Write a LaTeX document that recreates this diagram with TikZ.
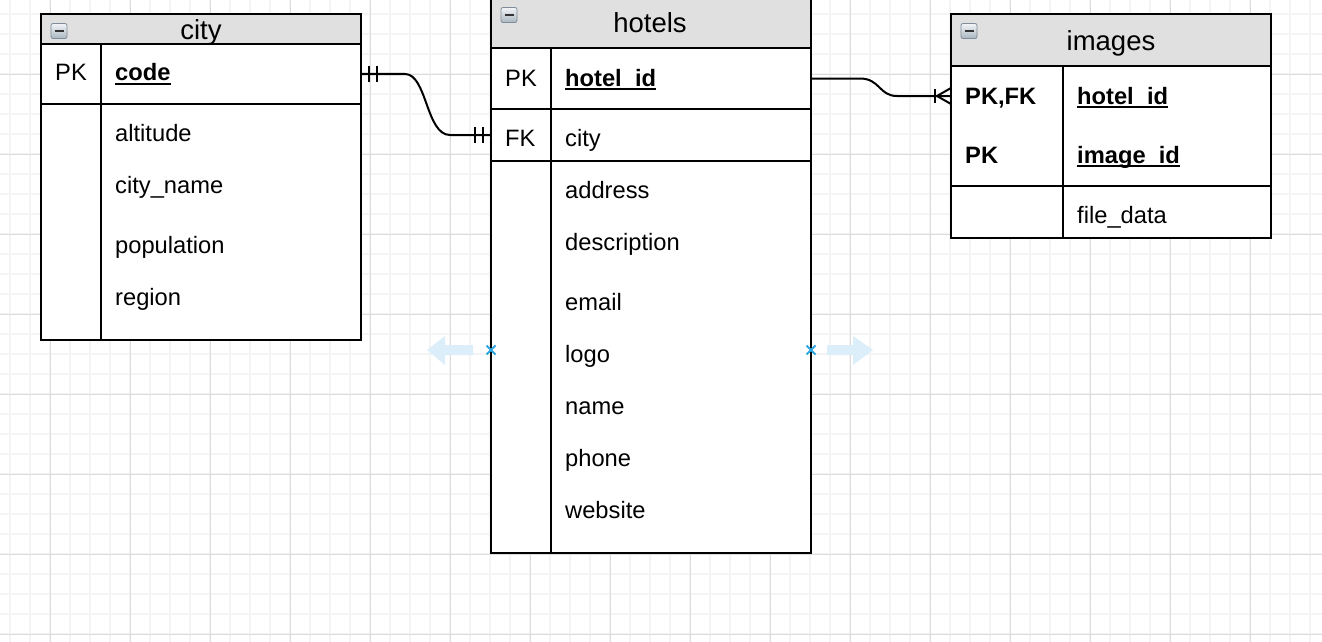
\documentclass[tikz,border=0pt]{standalone}
\usepackage{fontspec}
\setmainfont{Liberation Sans}
\usetikzlibrary{calc}

\definecolor{gridminor}{HTML}{F4F4F4}
\definecolor{gridmajor}{HTML}{DCDCDC}
\definecolor{headgray}{HTML}{E0E0E0}
\definecolor{hintblue}{HTML}{DCEEFA}
\definecolor{pinblue}{HTML}{2CA6E0}
\definecolor{iconedge}{HTML}{7F8C99}
\definecolor{icontop}{HTML}{F2F5F8}
\definecolor{iconbot}{HTML}{A9B5BF}

% bold key field with a solid underline
\newcommand\keyfield[1]{\setbox0\hbox{\bfseries #1}\rlap{\rule[-3.6pt]{\wd0}{1.6pt}}\box0}

\begin{document}
\begin{tikzpicture}[x=1pt,y=-1pt,
  tbl/.style={draw=black, line width=2pt, fill=white, rectangle, anchor=north west,
              inner sep=0pt, outer sep=0pt},
  headbox/.style={tbl, fill=headgray},
  txt/.style={anchor=base west, inner sep=0pt, font=\fontsize{23.7}{28}\selectfont},
  title/.style={anchor=base, inner sep=0pt, font=\fontsize{27.5}{32}\selectfont},
  rule/.style={line width=2pt},
  conn/.style={line width=2pt, line cap=butt},
  minusicon/.style={rectangle, minimum width=16pt, minimum height=15pt, inner sep=0pt,
     rounded corners=2pt, draw=iconedge, line width=0.8pt,
     top color=icontop, bottom color=iconbot,
     path picture={\draw[line width=2.4pt, black!80]
        ($(path picture bounding box.west)+(3.5pt,0)$) --
        ($(path picture bounding box.east)+(-3.5pt,0)$);}},
]
\useasboundingbox (0,0) rectangle (1322,642);
\fill[white] (0,0) rectangle (1322,642);

% background grid
\foreach \x in {10,30,...,1310} \draw[gridminor, line width=1.2pt] (\x,0) -- (\x,642);
\foreach \y in {14,34,...,634} \draw[gridminor, line width=1.2pt] (0,\y) -- (1322,\y);
\foreach \x in {50,130,...,1250} \draw[gridmajor, line width=1pt] (\x,0) -- (\x,642);
\foreach \y in {74,154,...,634} \draw[gridmajor, line width=1pt] (0,\y) -- (1322,\y);

% ---- city ----
\node[headbox, minimum width=320pt, minimum height=30pt] (cityhead) at (41,14) {};
\node[tbl, minimum width=320pt, minimum height=60pt] (citykey) at (41,44) {};
\node[tbl, minimum width=320pt, minimum height=236pt] (citybody) at (41,104) {};
\draw[rule] ($(citykey.north west)+(60,0)$) -- ($(citybody.south west)+(60,0)$);
\node[minusicon] (cityicon) at (59,31) {};
\node[title] (citytitle) at (201,40) {city};
\node[txt] (citypk) at (55,81) {PK};
\node[txt] (citycode) at (115,81) {\keyfield{code}};
\node[txt] (cityalt) at (115,141) {altitude};
\node[txt] (cityname) at (115,193) {city\_name};
\node[txt] (citypop) at (115,253) {population};
\node[txt] (cityreg) at (115,305) {region};

% ---- hotels ----
\node[headbox, minimum width=320pt, minimum height=50pt] (hothead) at (491,-2) {};
\node[tbl, minimum width=320pt, minimum height=61pt] (hotkey) at (491,48) {};
\node[tbl, minimum width=320pt, minimum height=52pt] (hotfk) at (491,109) {};
\node[tbl, minimum width=320pt, minimum height=392pt] (hotbody) at (491,161) {};
\draw[rule] ($(hotkey.north west)+(60,0)$) -- ($(hotbody.south west)+(60,0)$);
\node[minusicon] (hoticon) at (509,15) {};
\node[title] (hottitle) at (650,33) {hotels};
\node[txt] (hotpk) at (505,86) {PK};
\node[txt] (hotid) at (565,86) {\keyfield{hotel\_id}};
\node[txt] (hotfklbl) at (505,146) {FK};
\node[txt] (hotcity) at (565,146) {city};
\node[txt] (hotaddr) at (565,198) {address};
\node[txt] (hotdesc) at (565,250) {description};
\node[txt] (hotmail) at (565,310) {email};
\node[txt] (hotlogo) at (565,362) {logo};
\node[txt] (hotname) at (565,414) {name};
\node[txt] (hotphone) at (565,466) {phone};
\node[txt] (hotweb) at (565,518) {website};

% ---- images ----
\node[headbox, minimum width=320pt, minimum height=52pt] (imghead) at (951,14) {};
\node[tbl, minimum width=320pt, minimum height=120pt] (imgkey) at (951,66) {};
\node[tbl, minimum width=320pt, minimum height=52pt] (imgbody) at (951,186) {};
\draw[rule] ($(imgkey.north west)+(112,0)$) -- ($(imgbody.south west)+(112,0)$);
\node[minusicon] (imgicon) at (969,31) {};
\node[title] (imgtitle) at (1111,51) {images};
\node[txt] (imgpkfk) at (965,104) {\bfseries PK,FK};
\node[txt] (imghid) at (1077,104) {\keyfield{hotel\_id}};
\node[txt] (imgpk) at (965,163) {\bfseries PK};
\node[txt] (imgiid) at (1077,163) {\keyfield{image\_id}};
\node[txt] (imgdata) at (1077,223) {file\_data};

% ---- relationships ----
% city.code  ||----||  hotels.city
\draw[conn] (citykey.east) -- ++(44,0)
  .. controls +(22,0) and +(-24,0) .. ($(hotfk.west)+(-41,0)$) -- (hotfk.west);
\draw[conn] ($(citykey.east)+(8,-8)$) -- ++(0,16);
\draw[conn] ($(citykey.east)+(16,-8)$) -- ++(0,16);
\draw[conn] ($(hotfk.west)+(-16,-8)$) -- ++(0,16);
\draw[conn] ($(hotfk.west)+(-8,-8)$) -- ++(0,16);

% hotels.hotel_id  ----|<  images.hotel_id
\coordinate (imgfk) at ($(imgkey.north west)!0.25!(imgkey.south west)$);
\draw[conn] (hotkey.east) -- ++(49,0)
  .. controls +(20,0) and +(-18,0) .. ($(imgfk)+(-54,0)$) -- (imgfk);
\draw[conn] ($(imgfk)+(-16,-7)$) -- ++(0,14);
\draw[conn] ($(imgfk)+(-14,0)$) -- ($(imgfk)+(0,-8)$);
\draw[conn] ($(imgfk)+(-14,0)$) -- ($(imgfk)+(0,8)$);

% resize hints on the hotels box
\fill[hintblue] (473,345) -- (445,345) -- (445,336) -- (427,350) -- (445,365)
  -- (445,355) -- (473,355) -- cycle;
\fill[hintblue] (827,345) -- (853,345) -- (853,336) -- (873,350) -- (853,365)
  -- (853,355) -- (827,355) -- cycle;
\draw[pinblue, line width=2pt] (486.5,345.5) -- (495.5,354.5) (486.5,354.5) -- (495.5,345.5);
\draw[pinblue, line width=2pt] (806.5,345.5) -- (815.5,354.5) (806.5,354.5) -- (815.5,345.5);
\end{tikzpicture}
\end{document}
